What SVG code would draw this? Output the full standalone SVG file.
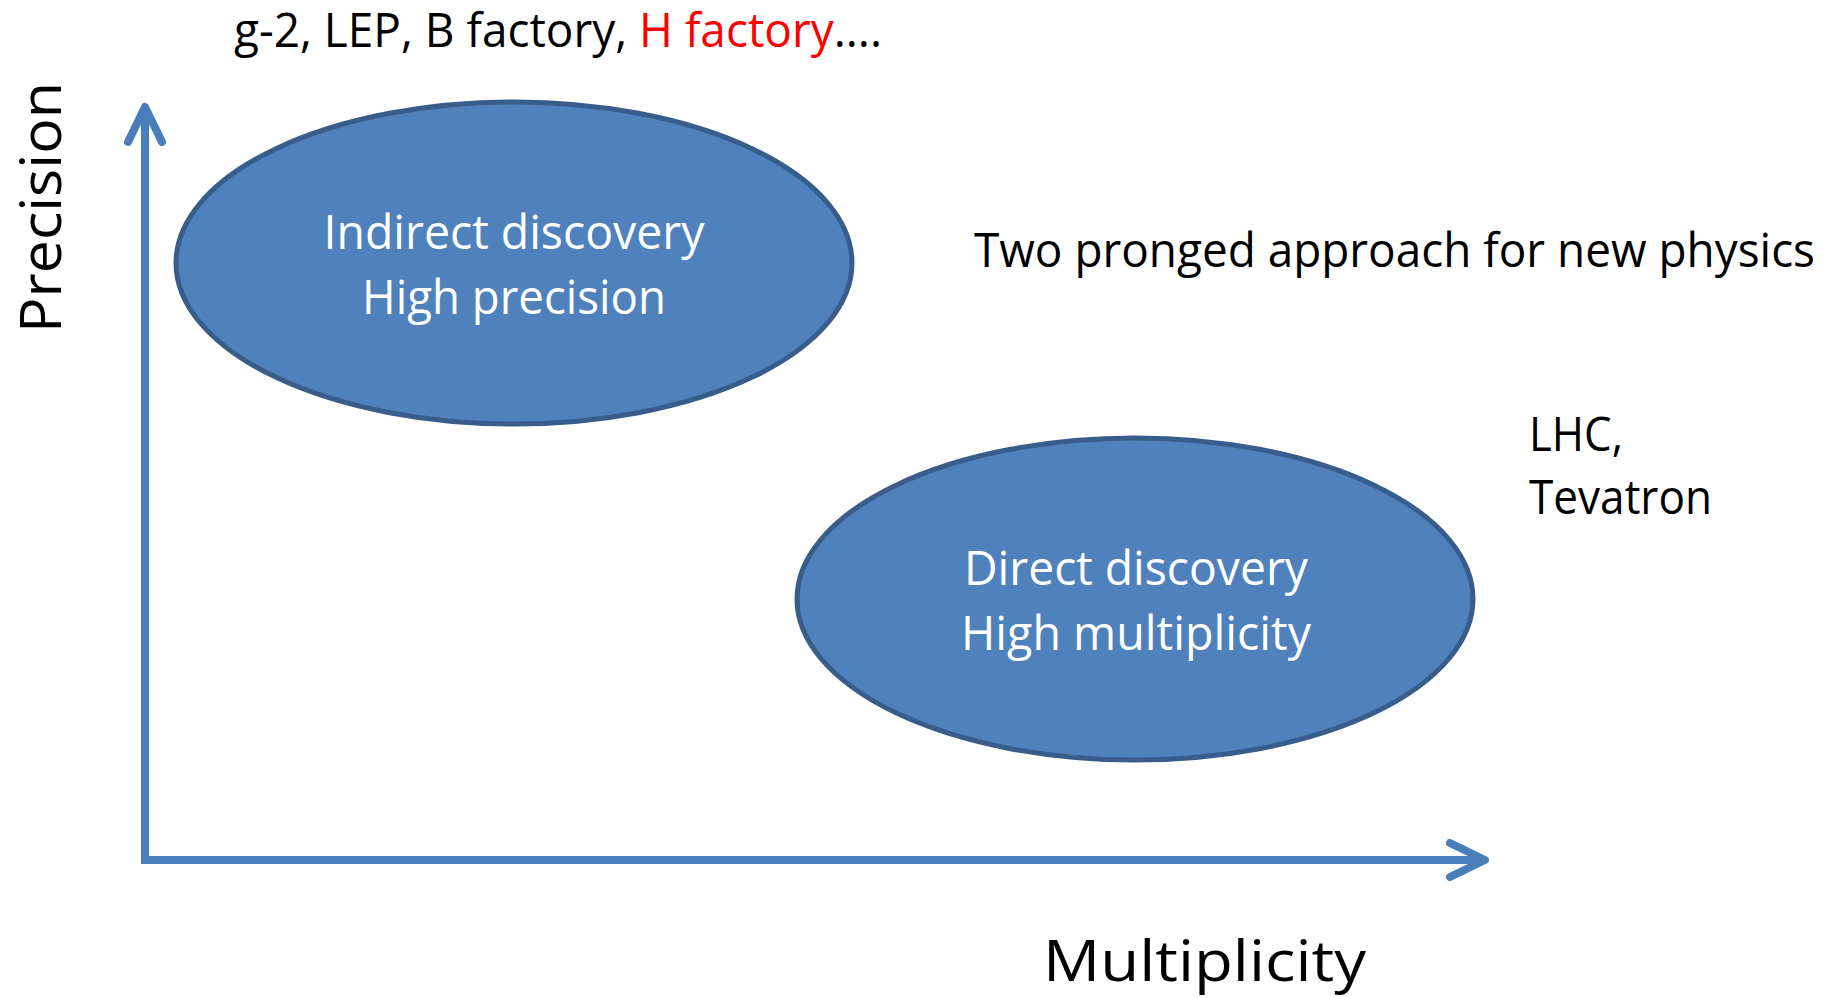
<svg xmlns="http://www.w3.org/2000/svg" width="1836" height="998" viewBox="0 0 1836 998">
  <style>
    text { font-family: "Open Sans", "Noto Sans", "Liberation Sans", sans-serif; }
    .label { font-size: 47px; fill: #000000; }
    .axis { font-size: 57px; fill: #000000; }
    .inner { font-size: 47px; fill: #ffffff; text-anchor: middle; }
    .hl { fill: #ff0000; }
    .blob { fill: #4f81bd; stroke: #385d8a; stroke-width: 5; }
    .axisline { fill: none; stroke: #4a7ebb; stroke-width: 8; }
  </style>
  <defs>
    <marker id="chevron" markerUnits="userSpaceOnUse" viewBox="-40 -22 46 44" refX="0" refY="0" markerWidth="46" markerHeight="44" orient="auto" overflow="visible">
      <path d="M-35,-17 L0,0 L-35,17" fill="none" stroke="#4a7ebb" stroke-width="8" stroke-linecap="round" stroke-linejoin="round"/>
    </marker>
  </defs>

  <rect width="1836" height="998" fill="#ffffff"/>

  <!-- axes -->
  <g id="connectors">
    <path id="y-axis" class="axisline" d="M145,862 L145,107" marker-end="url(#chevron)"/>
    <path id="x-axis" class="axisline" d="M141,860 L1485,860" marker-end="url(#chevron)"/>
  </g>

  <!-- axis titles -->
  <g id="axis-precision">
    <text class="axis" transform="translate(61,333) rotate(-90)" textLength="251" lengthAdjust="spacingAndGlyphs">Precision</text>
  </g>
  <g id="axis-multiplicity">
    <text class="axis" x="1043" y="981" textLength="323" lengthAdjust="spacingAndGlyphs">Multiplicity</text>
  </g>

  <!-- experiments list above the precision region -->
  <g id="precision-experiments">
    <text class="label" x="234" y="47" textLength="648" lengthAdjust="spacingAndGlyphs">g-2, LEP, B factory, <tspan class="hl">H factory</tspan>....</text>
  </g>

  <!-- indirect discovery region -->
  <g id="indirect">
    <ellipse class="blob" cx="514" cy="263" rx="338" ry="161"/>
    <text class="inner" x="514" y="249" textLength="381" lengthAdjust="spacingAndGlyphs">Indirect discovery</text>
    <text class="inner" x="514" y="314" textLength="304" lengthAdjust="spacingAndGlyphs">High precision</text>
  </g>

  <!-- direct discovery region -->
  <g id="direct">
    <ellipse class="blob" cx="1135" cy="599" rx="338" ry="161"/>
    <text class="inner" x="1136" y="585" textLength="344" lengthAdjust="spacingAndGlyphs">Direct discovery</text>
    <text class="inner" x="1136" y="650" textLength="350" lengthAdjust="spacingAndGlyphs">High multiplicity</text>
  </g>

  <!-- caption -->
  <g id="caption">
    <text class="label" x="974" y="267" textLength="841" lengthAdjust="spacingAndGlyphs">Two pronged approach for new physics</text>
  </g>

  <!-- colliders for the multiplicity region -->
  <g id="multiplicity-experiments">
    <text class="label" x="1529" y="451" textLength="94" lengthAdjust="spacingAndGlyphs">LHC,</text>
    <text class="label" x="1529" y="514" textLength="183" lengthAdjust="spacingAndGlyphs">Tevatron</text>
  </g>
</svg>
